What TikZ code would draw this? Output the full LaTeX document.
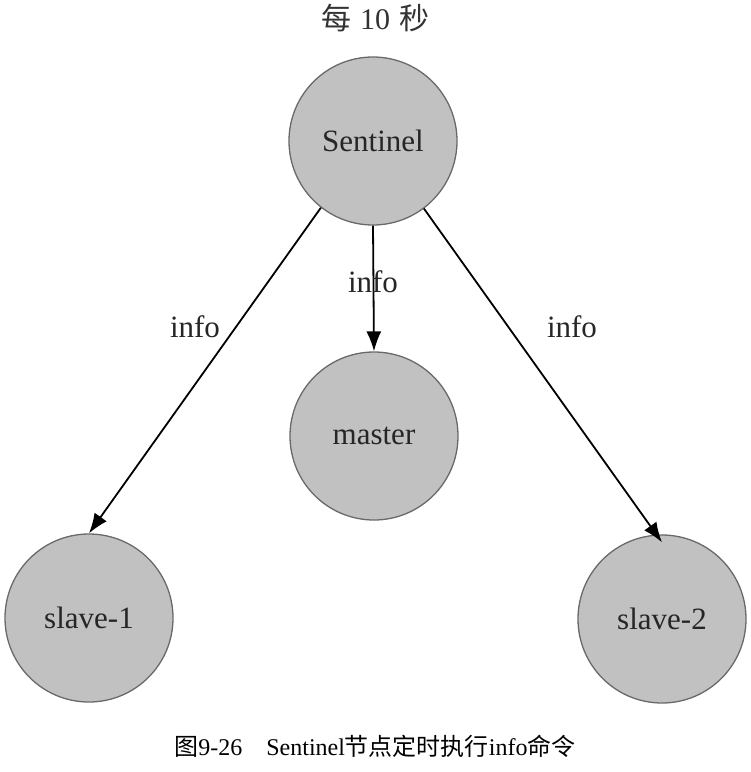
\documentclass[tikz,border=0pt]{standalone}
\usepackage{fontspec}
\setmainfont{Liberation Serif}
\newfontfamily\cjk{Noto Sans CJK SC}
\usetikzlibrary{arrows.meta}
\definecolor{nodefill}{RGB}{193,193,193}
\definecolor{nodeline}{RGB}{105,105,105}
\tikzset{
  srv/.style={circle, draw=nodeline, line width=1.3pt, fill=nodefill, minimum size=168pt, inner sep=0pt, font=\fontsize{31}{31}\selectfont, text=black!85},
  arr/.style={line width=1.8pt, -{Latex[length=20pt,width=15pt]}},
  lbl/.style={font=\fontsize{31}{31}\selectfont, text=black!85, inner sep=0pt}
}
\begin{document}
\begin{tikzpicture}[x=1pt,y=-1pt]
\useasboundingbox (0,0) rectangle (751,772);
\node[font=\fontsize{30}{30}\selectfont, text=black!80] (title) at (375,18) {{\cjk 每}\hspace{9pt}10\hspace{9pt}{\cjk 秒}};
\node[srv] (S) at (373,141) {Sentinel};
\node[srv] (M) at (374,436) {master};
\node[srv] (s1) at (89,618) {slave-1};
\node[srv] (s2) at (662,619) {slave-2};
\draw[arr] (S.232.7) -- (s1.north);
\draw[arr] (S.south) -- (M.north);
\draw[arr] (S.307.8) -- ([yshift=-8pt]s2.north);
\node[lbl] (l1) at (195,327) {info};
\node[lbl] (l2) at (373,282) {info};
\node[lbl] (l3) at (572,327) {info};
\node[font=\fontsize{24}{24}\selectfont] (cap) at (375,746) {{\cjk 图}9-26\hspace{24pt}Sentinel{\cjk 节点定时执行}info{\cjk 命令}};
\end{tikzpicture}
\end{document}
